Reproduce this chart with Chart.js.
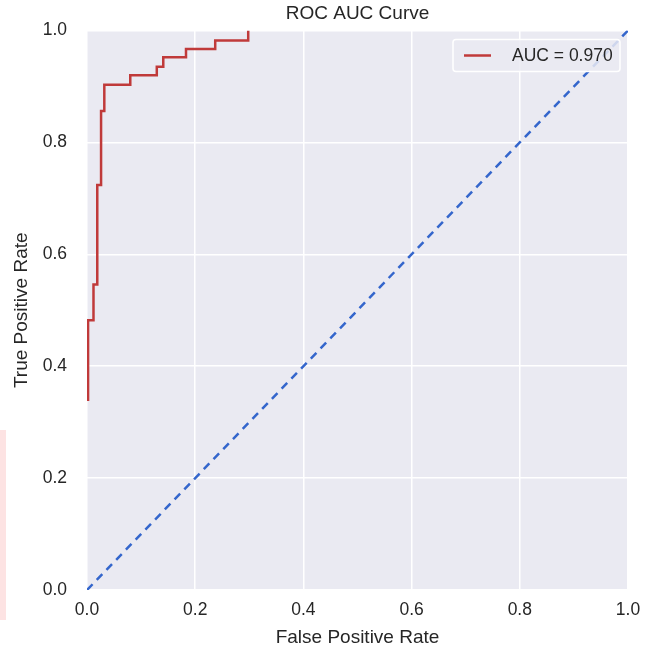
<!DOCTYPE html>
<html>
<head>
<meta charset="utf-8">
<script src="https://cdn.jsdelivr.net/npm/chart.js@4"></script>
<style>
  html, body { margin: 0; padding: 0; background: #ffffff; }
  #wrap { position: relative; width: 655px; height: 649px; }
  #mark { position: absolute; left: 0; top: 430px; width: 6px; height: 190px; background: #fde3e3; }
  canvas { position: absolute; left: 0; top: 0; }
</style>
</head>
<body>
<div id="wrap">
  <div id="mark"></div>
  <canvas id="c" width="655" height="649"></canvas>
</div>
<script>
// ROC curve vertices
const fpr = [0.002, 0.002, 0.012, 0.012, 0.019, 0.019, 0.026, 0.026, 0.032, 0.032, 0.080, 0.080,
             0.129, 0.129, 0.141, 0.141, 0.183, 0.183, 0.237, 0.237, 0.298, 0.298];
const tpr = [0.338, 0.482, 0.482, 0.546, 0.546, 0.724, 0.724, 0.856, 0.856, 0.903, 0.903, 0.920,
             0.920, 0.935, 0.935, 0.952, 0.952, 0.967, 0.967, 0.982, 0.982, 1.000];
const chanceX = [0, 1];
const chanceY = [0, 1];
const aucValue = 0.970;
const tickValues = [0.0, 0.2, 0.4, 0.6, 0.8, 1.0];
const chartTitle = 'ROC AUC Curve';

const FONT = "'Liberation Sans', Arial, sans-serif";
const TEXT = '#262626';

const bgPlugin = {
  id: 'plotBg',
  beforeDraw(chart) {
    const {ctx, chartArea: a} = chart;
    ctx.save();
    ctx.fillStyle = '#EAEAF2';
    ctx.fillRect(a.left, a.top, a.right - a.left, a.bottom - a.top);
    ctx.restore();
  }
};

const titlePlugin = {
  id: 'axesTitle',
  afterDraw(chart) {
    const {ctx, chartArea: a} = chart;
    ctx.save();
    ctx.fillStyle = TEXT;
    ctx.font = "19px " + FONT;
    ctx.textAlign = 'center';
    ctx.textBaseline = 'middle';
    ctx.fillText(chartTitle, (a.left + a.right) / 2, 14);
    ctx.restore();
  }
};

const legendPlugin = {
  id: 'innerLegend',
  afterDraw(chart) {
    const {ctx, chartArea: a} = chart;
    const ds = chart.data.datasets[0];
    const right = a.right - 8, top = a.top + 9;
    const w = 167, h = 32;
    const left = right - w;
    ctx.save();
    ctx.fillStyle = 'rgba(234,234,242,0.85)';
    ctx.strokeStyle = '#ffffff';
    ctx.lineWidth = 1.5;
    ctx.beginPath();
    if (ctx.roundRect) ctx.roundRect(left, top, w, h, 3); else ctx.rect(left, top, w, h);
    ctx.fill();
    ctx.stroke();
    ctx.strokeStyle = ds.borderColor;
    ctx.lineWidth = 2.5;
    ctx.beginPath();
    ctx.moveTo(left + 11, top + h / 2);
    ctx.lineTo(left + 38, top + h / 2);
    ctx.stroke();
    ctx.fillStyle = TEXT;
    ctx.font = "17.5px " + FONT;
    ctx.textBaseline = 'middle';
    ctx.textAlign = 'left';
    ctx.fillText(ds.label, left + 59, top + h / 2 + 1);
    ctx.restore();
  }
};

new Chart(document.getElementById('c'), {
  type: 'line',
  data: {
    datasets: [
      {
        label: 'AUC = ' + aucValue.toFixed(3),
        data: fpr.map((x, i) => ({x: x, y: tpr[i]})),
        borderColor: '#C03A3A',
        borderWidth: 2.5,
        pointRadius: 0,
        fill: false,
        tension: 0
      },
      {
        label: 'chance',
        data: chanceX.map((x, i) => ({x: x, y: chanceY[i]})),
        borderColor: '#3466CC',
        borderWidth: 2.5,
        borderDash: [8, 6],
        pointRadius: 0,
        fill: false,
        tension: 0
      }
    ]
  },
  options: {
    responsive: false,
    animation: false,
    layout: { padding: { left: 0, right: 27, top: 28, bottom: 0 } },
    plugins: {
      legend: { display: false },
      tooltip: { enabled: false },
      title: { display: false }
    },
    scales: {
      x: {
        type: 'linear',
        min: 0, max: 1,
        afterBuildTicks(scale) { scale.ticks = tickValues.map(v => ({value: v})); },
        afterFit(scale) { scale.height = 59; },
        ticks: {
          color: TEXT,
          font: { family: FONT, size: 17.5 },
          padding: 10,
          callback: v => Number(v).toFixed(1)
        },
        grid: { color: '#ffffff', lineWidth: 1.5, drawTicks: false },
        border: { display: false },
        title: {
          display: true,
          text: 'False Positive Rate',
          color: TEXT,
          font: { family: FONT, size: 19 },
          padding: { top: 0, bottom: 0 }
        }
      },
      y: {
        type: 'linear',
        min: 0, max: 1,
        afterBuildTicks(scale) { scale.ticks = tickValues.map(v => ({value: v})); },
        afterFit(scale) { scale.width = 87; },
        ticks: {
          color: TEXT,
          font: { family: FONT, size: 17.5 },
          padding: 20,
          callback: v => Number(v).toFixed(1)
        },
        grid: { color: '#ffffff', lineWidth: 1.5, drawTicks: false },
        border: { display: false },
        title: {
          display: true,
          text: 'True Positive Rate',
          color: TEXT,
          font: { family: FONT, size: 19 },
          padding: { top: 10, bottom: 0 }
        }
      }
    }
  },
  plugins: [bgPlugin, titlePlugin, legendPlugin]
});
</script>
</body>
</html>
